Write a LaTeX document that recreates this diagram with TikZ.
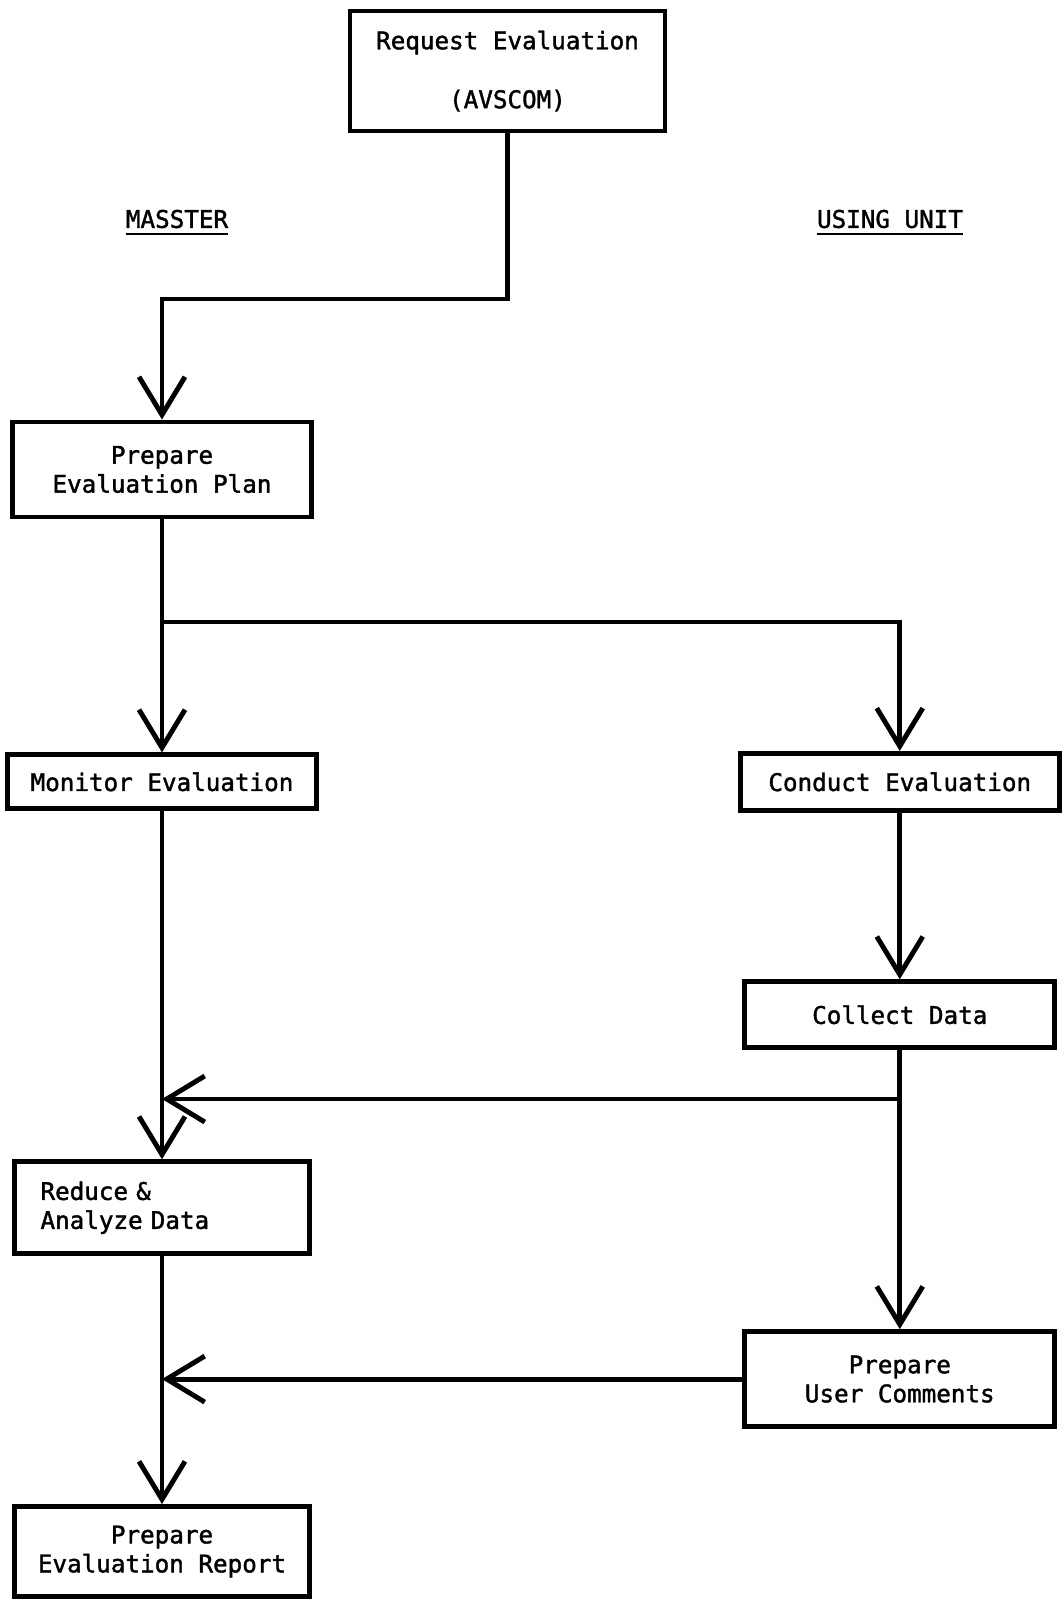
\documentclass[tikz,border=0pt]{standalone}
\usepackage{fontspec}
\newfontfamily\typefont[FakeBold=1.6]{DejaVu Sans Mono}
\usetikzlibrary{positioning,arrows.meta}
\tikzset{
    stepbox/.style={draw, line width=2.8pt, inner sep=0pt, align=center,
        font=\typefont\fontsize{13.8}{16.5}\selectfont},
    flow/.style={line width=2.8pt, -{Straight Barb[length=0.76cm, width=0.92cm]}},
    side/.style={inner sep=0pt, font=\typefont\fontsize{13.8}{16.5}\selectfont},
}

\begin{document}
\begin{tikzpicture}[x=0.02cm, y=-0.02cm]
    \useasboundingbox (0,0) rectangle (1063,1600);

    \node[stepbox, minimum width=6.3cm, minimum height=2.4cm] (req) at (507.5,71) {Request Evaluation\\[17pt](AVSCOM)};
    \node[side] (masster) at (177,219) {MASSTER};
    \node[side] (unit) at (890,219) {USING UNIT};

    \node[stepbox, minimum width=5.98cm, minimum height=1.9cm] (plan) at (162,469.5) {Prepare\\Evaluation Plan};
    \node[stepbox, minimum width=6.18cm, minimum height=1.08cm, below=4.66cm of plan] (monitor) {Monitor Evaluation};
    \node[stepbox, minimum width=5.9cm, minimum height=1.84cm, text width=4.86cm, inner xsep=0.52cm, align=left, below=6.96cm of monitor] (reduce) {Reduce \&\\Analyze Data};
    \node[stepbox, minimum width=5.9cm, minimum height=1.8cm, below=4.96cm of reduce] (report) {Prepare\\Evaluation Report};

    \node[stepbox, minimum width=6.38cm, minimum height=1.14cm, right=8.38cm of monitor] (conduct) {Conduct Evaluation};
    \node[stepbox, minimum width=6.2cm, minimum height=1.32cm, below=3.33cm of conduct] (collect) {Collect Data};
    \node[stepbox, minimum width=6.2cm, minimum height=1.9cm, below=5.58cm of collect] (comments) {Prepare\\User Comments};

    \coordinate (turn) at (req.south |- 0,299);
    \coordinate (fork) at (plan.south |- 0,622);
    \coordinate (join) at (collect.south |- 0,1099);

    \draw[line width=1.3pt] ([yshift=-3.4pt]masster.base west) -- ([yshift=-3.4pt]masster.base east);
    \draw[line width=1.3pt] ([yshift=-3.4pt]unit.base west) -- ([yshift=-3.4pt]unit.base east);

    \draw[flow] (req.south) -- (turn) -| (plan.north);
    \draw[flow] (plan.south) -- (monitor.north);
    \draw[flow] (fork) -| (conduct.north);
    \draw[flow] (monitor.south) -- (reduce.north);
    \draw[flow] (conduct.south) -- (collect.north);
    \draw[flow] (collect.south) -- (comments.north);
    \draw[flow] (join) -- (join -| reduce.north);
    \draw[flow] (reduce.south) -- (report.north);
    \draw[flow] (comments.west) -- (comments.west -| report.north);
\end{tikzpicture}
\end{document}
